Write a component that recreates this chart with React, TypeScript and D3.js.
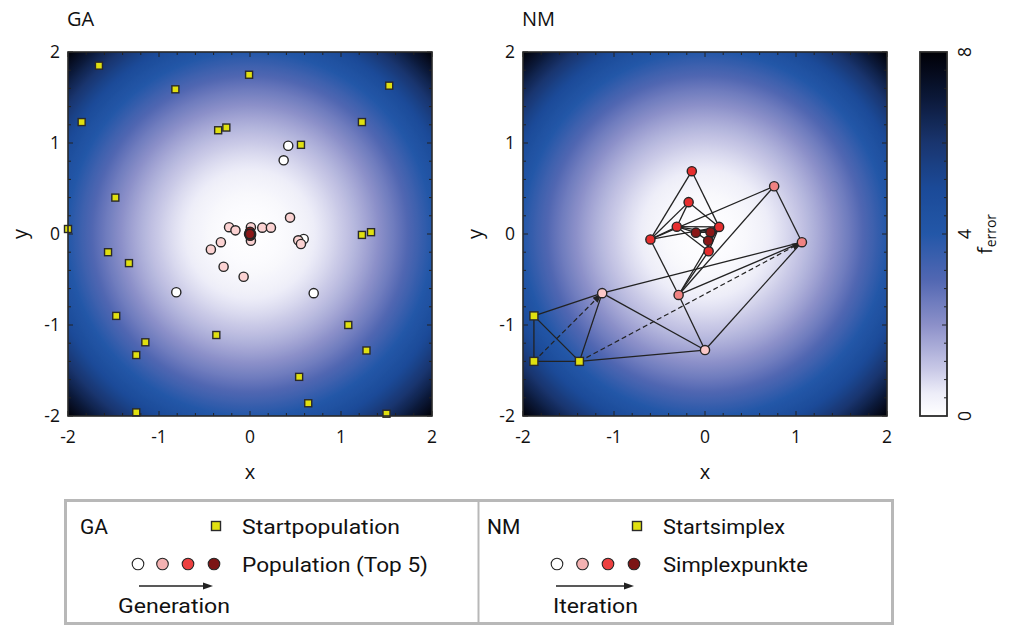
import React, { useEffect } from "react";
import * as d3 from "d3";

// ---------- data ----------
// error surface f = x^2 + y^2, colour map stops
const fStops = [0, 0.5, 1, 2, 3, 4, 5, 6, 7, 8];
const fColors = ["#ffffff", "#ededf8", "#cacae7", "#8c90c9", "#5167b2", "#2357a8", "#1b4a98", "#19356f", "#0b1838", "#000006"];

// GA start population
const gaStart: [number, number][] = [
  [-1.66, 1.85], [-0.01, 1.75], [1.53, 1.63], [-0.82, 1.59], [-1.85, 1.23],
  [1.23, 1.23], [-0.35, 1.14], [-0.26, 1.17], [0.56, 0.98], [-1.48, 0.4],
  [-2.0, 0.055], [1.23, -0.01], [1.33, 0.02], [-1.56, -0.2], [-1.33, -0.32],
  [-1.47, -0.9], [-0.37, -1.11], [1.08, -1.0], [-1.15, -1.19], [-1.25, -1.33],
  [1.28, -1.28], [0.54, -1.57], [0.64, -1.86], [-1.25, -1.96], [1.5, -1.975],
];
// GA population (top 5) per generation
const gaGen0: [number, number][] = [[0.42, 0.97], [0.37, 0.81], [-0.81, -0.64], [0.7, -0.65], [0.59, -0.055]];
const gaGen1: [number, number][] = [
  [-0.23, 0.075], [-0.16, 0.04], [0.135, 0.07], [0.23, 0.07], [0.44, 0.18],
  [-0.32, -0.09], [-0.43, -0.17], [-0.29, -0.36], [-0.07, -0.47], [0.01, 0.075],
  [0.01, -0.075], [0.53, -0.07], [0.56, -0.11],
];
const gaGen2: [number, number][] = [[0.0, 0.02], [0.01, -0.015]];
const gaGen3: [number, number][] = [[0.0, 0.025], [0.0, -0.02], [0.012, 0.0], [-0.01, 0.0], [0.0, 0.0]];

// NM simplex vertices: name, x, y, iteration level (0 = start simplex)
const nmNames = ["S1", "S2", "S3", "P1", "P2", "B", "C", "D", "R1", "R2", "R3", "R4", "R5", "R6", "K1", "K2", "K3"];
const nmX = [-1.88, -1.88, -1.38, -1.13, 0.0, 1.065, -0.29, 0.76, -0.6, -0.145, -0.18, -0.31, 0.04, 0.155, -0.1, 0.06, 0.035];
const nmY = [-0.9, -1.4, -1.4, -0.65, -1.275, -0.09, -0.67, 0.525, -0.06, 0.69, 0.35, 0.08, -0.19, 0.078, 0.015, 0.02, -0.075];
const nmLevel = [0, 0, 0, 1, 1, 2, 2, 2, 3, 3, 3, 3, 3, 3, 4, 4, 4];
// simplex edges
const nmEdges: [string, string][] = [
  ["S1", "S2"], ["S2", "S3"], ["S1", "S3"], ["S1", "P1"], ["S3", "P1"], ["S3", "P2"], ["P1", "P2"],
  ["P1", "B"], ["P2", "B"], ["C", "P2"], ["C", "B"], ["C", "D"], ["D", "B"], ["C", "R1"], ["R1", "D"],
  ["C", "R6"], ["C", "R5"], ["R1", "R6"], ["R1", "R2"], ["R2", "R6"], ["R1", "R3"], ["R3", "R6"],
  ["R1", "R4"], ["R3", "R4"], ["R4", "R6"], ["R4", "R5"], ["R5", "R6"], ["R4", "K1"], ["K1", "R6"],
  ["K1", "K2"], ["K2", "R6"], ["K2", "K3"], ["K1", "K3"], ["K3", "R5"], ["K3", "R6"], ["R4", "K2"],
];
// reflection steps shown as dashed arrows
const nmSteps: [string, string][] = [["S2", "P1"], ["S3", "B"]];

const levelFill = ["#d8d818", "#fbc8c8", "#f08282", "#e62e2e", "#8a1818"];
const gaGenFill = ["#ffffff", "#fbd2d2", "#e62e2e", "#8a1818"];
const legendFill = ["#ffffff", "#f4b2b2", "#ec4040", "#7c1515"];

const xTicks = [-2, -1, 0, 1, 2];
const cbTicks = [0, 4, 8];

// ---------- layout ----------
const W = 1017, H = 626;
const TOP = 52, SIZE = 364;
const GA_LEFT = 68, NM_LEFT = 523;
const CB_LEFT = 920, CB_W = 27;
const FONT = "'Open Sans', 'Noto Sans', sans-serif";
const NARROW = "'Liberation Sans Narrow', 'Roboto', sans-serif";
const INK = "#222";

const colorOf = d3.scaleLinear<string>().domain(fStops).range(fColors).interpolate(d3.interpolateRgb);
const yScale = d3.scaleLinear().domain([-2, 2]).range([TOP + SIZE, TOP]);
const minorTicks = d3.range(-2, 2.0001, 0.2);

function Square({ x, y, s = 7 }: { x: number; y: number; s?: number }) {
  return <rect x={x - s / 2} y={y - s / 2} width={s} height={s} fill="#e0e010" stroke="#2a2a2a" strokeWidth={1.4} />;
}

function Panel({ left, title, id, children }: { left: number; title: string; id: string; children?: React.ReactNode }) {
  const xs = d3.scaleLinear().domain([-2, 2]).range([left, left + SIZE]);
  const cx = xs(0), cy = yScale(0);
  const r = (SIZE / 2) * Math.SQRT2;
  const gStops = d3.range(0, 8.0001, 0.1);
  const bottom = TOP + SIZE, right = left + SIZE;
  return (
    <g>
      <defs>
        <radialGradient id={id} gradientUnits="userSpaceOnUse" cx={cx} cy={cy} r={r}>
          {gStops.map((f, i) => (
            <stop key={i} offset={Math.sqrt(f / 8)} stopColor={colorOf(f)} />
          ))}
        </radialGradient>
      </defs>
      <rect x={left} y={TOP} width={SIZE} height={SIZE} fill={`url(#${id})`} />
      {minorTicks.map((t, i) => {
        const major = Math.abs(t - Math.round(t)) < 1e-6;
        const len = major ? 5 : 3;
        const px = xs(t), py = yScale(t);
        return (
          <g key={i} stroke={INK} strokeWidth={1}>
            <line x1={px} x2={px} y1={bottom} y2={bottom - len} />
            <line x1={px} x2={px} y1={TOP} y2={TOP + len} />
            <line x1={left} x2={left + len} y1={py} y2={py} />
            <line x1={right} x2={right - len} y1={py} y2={py} />
          </g>
        );
      })}
      {children}
      <rect x={left} y={TOP} width={SIZE} height={SIZE} fill="none" stroke="#2a2a2a" strokeWidth={1.6} />
      {xTicks.map((t) => (
        <text key={"x" + t} x={xs(t)} y={443} textAnchor="middle" fontFamily={FONT} fontSize={17.5} fill="#111">
          {String(t)}
        </text>
      ))}
      {xTicks.map((t) => (
        <text key={"y" + t} x={left - 8} y={yScale(t)} dy="0.36em" textAnchor="end" fontFamily={FONT} fontSize={17.5} fill="#111">
          {String(t)}
        </text>
      ))}
      <text x={cx} y={479} textAnchor="middle" fontFamily={FONT} fontSize={20} fill="#111">x</text>
      <text transform={`translate(${left - 47},${cy}) rotate(-90)`} textAnchor="middle" dy="0.3em" fontFamily={FONT} fontSize={20} fill="#111">y</text>
      <text x={left - 1} y={26} fontFamily={FONT} fontSize={20} fill="#111">{title}</text>
    </g>
  );
}

function GAPanel() {
  const xs = d3.scaleLinear().domain([-2, 2]).range([GA_LEFT, GA_LEFT + SIZE]);
  const gens = [gaGen0, gaGen1, gaGen2, gaGen3];
  return (
    <Panel left={GA_LEFT} title="GA" id="gaSurface">
      {gaStart.map(([x, y], i) => <Square key={i} x={xs(x)} y={yScale(y)} />)}
      {gens.map((g, gi) =>
        g.map(([x, y], i) => (
          <circle key={gi + "-" + i} cx={xs(x)} cy={yScale(y)} r={4.6} fill={gaGenFill[gi]} stroke="#252525" strokeWidth={1.4} />
        ))
      )}
    </Panel>
  );
}

function NMPanel() {
  const xs = d3.scaleLinear().domain([-2, 2]).range([NM_LEFT, NM_LEFT + SIZE]);
  const idx = (n: string) => nmNames.indexOf(n);
  const px = (n: string) => xs(nmX[idx(n)]);
  const py = (n: string) => yScale(nmY[idx(n)]);
  const order = d3.range(nmNames.length).sort((a, b) => nmLevel[a] - nmLevel[b]);
  return (
    <Panel left={NM_LEFT} title="NM" id="nmSurface">
      {nmEdges.map(([a, b], i) => (
        <line key={i} x1={px(a)} y1={py(a)} x2={px(b)} y2={py(b)} stroke={INK} strokeWidth={1.3} />
      ))}
      {nmSteps.map(([a, b], i) => {
        const x1 = px(a), y1 = py(a), x2 = px(b), y2 = py(b);
        const d = Math.hypot(x2 - x1, y2 - y1);
        const k = (d - 8) / d;
        return (
          <line key={"s" + i} x1={x1} y1={y1} x2={x1 + (x2 - x1) * k} y2={y1 + (y2 - y1) * k}
            stroke={INK} strokeWidth={1.2} strokeDasharray="5,3" markerEnd="url(#arrowHead)" />
        );
      })}
      {order.map((i) =>
        nmLevel[i] === 0 ? (
          <Square key={i} x={xs(nmX[i])} y={yScale(nmY[i])} s={8} />
        ) : (
          <circle key={i} cx={xs(nmX[i])} cy={yScale(nmY[i])} r={4.6} fill={levelFill[nmLevel[i]]} stroke="#252525" strokeWidth={1.4} />
        )
      )}
    </Panel>
  );
}

function ColorBar() {
  const cs = d3.scaleLinear().domain([0, 8]).range([TOP + SIZE, TOP]);
  const stops = d3.range(0, 8.0001, 0.25);
  const minor = d3.range(0.4, 8, 0.4);
  const right = CB_LEFT + CB_W;
  return (
    <g>
      <defs>
        <linearGradient id="cbGrad" x1="0" y1="1" x2="0" y2="0">
          {stops.map((f, i) => <stop key={i} offset={f / 8} stopColor={colorOf(f)} />)}
        </linearGradient>
      </defs>
      <rect x={CB_LEFT} y={TOP} width={CB_W} height={SIZE} fill="url(#cbGrad)" />
      {minor.map((f, i) => {
        const major = Math.abs(f / 2 - Math.round(f / 2)) < 1e-6;
        return <line key={i} x1={right} x2={right - (major ? 5 : 3)} y1={cs(f)} y2={cs(f)} stroke={INK} strokeWidth={1} />;
      })}
      <rect x={CB_LEFT} y={TOP} width={CB_W} height={SIZE} fill="none" stroke="#2a2a2a" strokeWidth={1.8} />
      {cbTicks.map((t) => (
        <text key={t} transform={`translate(${right + 24},${cs(t)}) rotate(-90)`} textAnchor="middle" fontFamily={FONT} fontSize={17.5} fill="#111">
          {String(t)}
        </text>
      ))}
      <text transform={`translate(${right + 45},${cs(4)}) rotate(-90)`} textAnchor="middle" fontFamily={FONT} fill="#111">
        <tspan fontSize={20}>f</tspan>
        <tspan fontSize={14} dy={4}>error</tspan>
      </text>
    </g>
  );
}

function LegendHalf({ x0, head, sq, circ, arrow, t1, t1w, t2, t2w, t3, t3x, t3w }: {
  x0: number; head: string; sq: number; circ: number[]; arrow: [number, number];
  t1: string; t1w: number; t2: string; t2w: number; t3: string; t3x: number; t3w: number;
}) {
  const txt = { fontFamily: NARROW, fontSize: 21, fill: "#111", lengthAdjust: "spacingAndGlyphs" as const };
  return (
    <g>
      <text x={x0} y={534} {...txt}>{head}</text>
      <Square x={sq} y={526} s={9} />
      <text x={sq + 26} y={534} textLength={t1w} {...txt}>{t1}</text>
      {circ.map((cx, i) => (
        <circle key={i} cx={cx} cy={564} r={5.8} fill={legendFill[i]} stroke="#252525" strokeWidth={1.1} />
      ))}
      <text x={sq + 26} y={572} textLength={t2w} {...txt}>{t2}</text>
      <line x1={arrow[0]} x2={arrow[1] - 6} y1={586} y2={586} stroke={INK} strokeWidth={1.3} markerEnd="url(#arrowHead)" />
      <text x={t3x} y={613} textLength={t3w} {...txt}>{t3}</text>
    </g>
  );
}

function Legend() {
  return (
    <g>
      <rect x={65.5} y={500.5} width={827} height={123} fill="#fff" stroke="#b8b8b8" strokeWidth={3} />
      <line x1={478.5} x2={478.5} y1={502} y2={622} stroke="#b8b8b8" strokeWidth={2} />
      <LegendHalf x0={80} head="GA" sq={216} circ={[138, 162.5, 188, 214]} arrow={[139, 211]}
        t1="Startpopulation" t1w={158} t2="Population (Top 5)" t2w={186} t3="Generation" t3x={118} t3w={112} />
      <LegendHalf x0={487} head="NM" sq={637} circ={[557, 582.5, 608, 634]} arrow={[556, 632]}
        t1="Startsimplex" t1w={122} t2="Simplexpunkte" t2w={145} t3="Iteration" t3x={553} t3w={85} />
    </g>
  );
}

export default function App() {
  useEffect(() => {
    document.body.style.margin = "0";
  }, []);
  return (
    <svg width={W} height={H} viewBox={`0 0 ${W} ${H}`} style={{ display: "block", background: "#fff" }}>
      <defs>
        <marker id="arrowHead" viewBox="0 0 10 8" refX="2" refY="4" markerWidth="10" markerHeight="8" markerUnits="userSpaceOnUse" orient="auto">
          <path d="M0,0.5 L10,4 L0,7.5 Z" fill={INK} />
        </marker>
      </defs>
      <GAPanel />
      <NMPanel />
      <ColorBar />
      <Legend />
    </svg>
  );
}
